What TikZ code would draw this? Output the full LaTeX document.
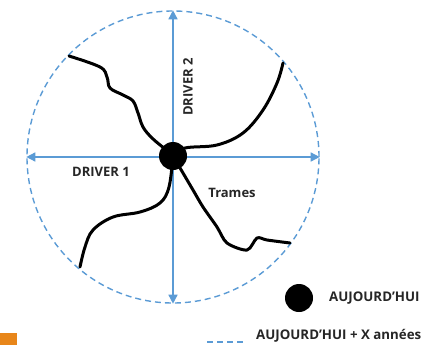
\documentclass[tikz,border=0pt]{standalone}
\usepackage{fontspec}
\setmainfont{Open Sans}
\usetikzlibrary{arrows.meta,positioning,calc}
\definecolor{driverblue}{HTML}{5B9BD5}
\definecolor{trameblack}{HTML}{000000}
\definecolor{markorange}{HTML}{E8861A}
\tikzset{
  horizon/.style={draw=driverblue, circle, dashed, dash pattern=on 6pt off 4pt,
    line width=1.4pt, minimum size=292pt, inner sep=0pt},
  today/.style={circle, fill=trameblack, minimum size=28pt, inner sep=0pt},
  axis/.style={{Triangle[length=9pt,width=9pt]}-{Triangle[length=9pt,width=9pt]},
    line width=1.5pt, color=driverblue},
  trame/.style={line width=3pt, color=trameblack, line cap=round, line join=round},
  lab/.style={font=\bfseries\fontsize{13}{15}\selectfont, text=black!85, inner sep=0pt},
  leglab/.style={lab, font=\bfseries\fontsize{13.3}{15}\selectfont},
}
\begin{document}
\begin{tikzpicture}[x=1pt,y=-1pt]
  \useasboundingbox (0,0) rectangle (441,345);
  \node[horizon] (horizon) at (173,157) {};
  \draw[axis] (horizon.west) -- (horizon.east);
  \draw[axis] (horizon.north) -- (horizon.south);
  % the four trames
  \draw[trame] plot[smooth, tension=0.6] coordinates {(69,56) (100,67) (107,77) (110,88) (123,95) (133,101) (138,113) (143,127) (152,138) (165,149) (173,156)};
  \draw[trame] plot[smooth, tension=0.6] coordinates {(173,156) (185,148) (217,145) (243,133) (263,110) (277,83) (283,63)};
  \draw[trame] plot[smooth, tension=0.6] coordinates {(173,156) (169,187) (160,203) (140,212) (113,217) (93,230) (85,247) (80,267)};
  \draw[trame] plot[smooth, tension=0.5] coordinates {(173,156) (193,190) (203,207) (217,227) (227,243) (247,250) (257,238) (267,240) (290,243)};
  \node[today] (now) at (173,156) {};
  \node[lab, rotate=90] (d2) at (188,87) {DRIVER 2};
  \node[lab] (d1) at (101,172) {DRIVER 1};
  \node[lab] (tr) at (232,193) {Trames};
  % legend
  \node[today] (legnow) at (299,298) {};
  \node[leglab, anchor=west] (legnowlab) at (329,298) {AUJOURD'HUI};
  \node[leglab, anchor=west] (leghorlab) at (256,336) {AUJOURD'HUI + X années};
  \coordinate (legdash) at (207,342);
  \draw[driverblue, line width=1.4pt, dash pattern=on 6pt off 4pt] (legdash) -- ++(36,0);
  \fill[markorange] (0,333) rectangle (17,345);
\end{tikzpicture}
\end{document}
